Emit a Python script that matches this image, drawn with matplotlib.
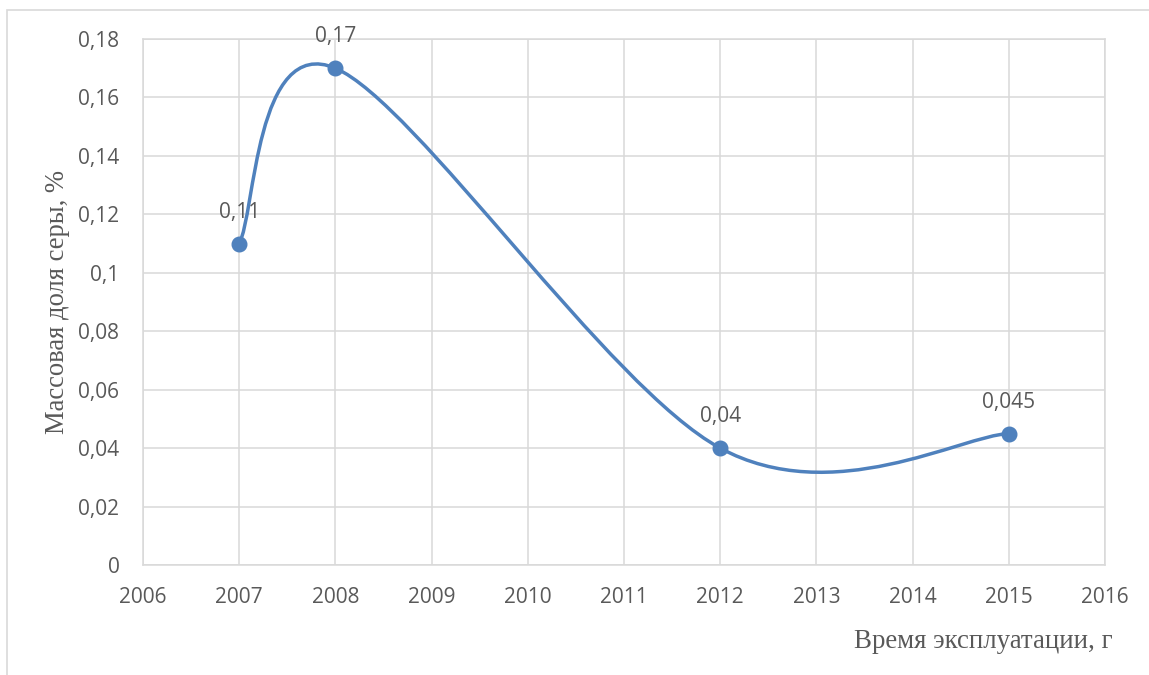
import matplotlib
matplotlib.use("Agg")
import matplotlib.pyplot as plt
import numpy as np
from matplotlib.path import Path
from matplotlib.patches import PathPatch, Rectangle

# data
years = [2007, 2008, 2012, 2015]
sulfur = [0.11, 0.17, 0.04, 0.045]
point_labels = ["0,11", "0,17", "0,04", "0,045"]
x_ticks = list(range(2006, 2017))
y_ticks = [0, 0.02, 0.04, 0.06, 0.08, 0.10, 0.12, 0.14, 0.16, 0.18]
y_tick_labels = ["0", "0,02", "0,04", "0,06", "0,08", "0,1", "0,12", "0,14", "0,16", "0,18"]

LINE = "#4f81bd"
GRID = "#d9d9d9"
TXT = "#595959"
TICK_FONT = "Open Sans"
TITLE_FONT = "Liberation Serif"


def smooth_path(xs, ys):
    # Excel-like smoothed line: cubic Bezier with Catmull-Rom control points
    pts = np.column_stack([xs, ys]).astype(float)
    n = len(pts)
    verts = [pts[0]]
    codes = [Path.MOVETO]
    for i in range(n - 1):
        p_prev = pts[i - 1] if i > 0 else pts[i]
        p_next2 = pts[i + 2] if i + 2 < n else pts[i + 1]
        c1 = pts[i] + (pts[i + 1] - p_prev) / 6
        c2 = pts[i + 1] - (p_next2 - pts[i]) / 6
        verts += [c1, c2, pts[i + 1]]
        codes += [Path.CURVE4] * 3
    return Path(verts, codes)


fig = plt.figure(figsize=(11.49, 6.75), dpi=100)
ax = fig.add_axes([143 / 1149, 1 - 565 / 675, (1105 - 143) / 1149, (565 - 39) / 675])

# chart frame (only left/top edges visible in the crop)
fig.add_artist(Rectangle((7 / 1149, -0.1), 1.2, 1 - 10 / 675 + 0.1,
                         transform=fig.transFigure, fill=False,
                         edgecolor=GRID, linewidth=1.2))

ax.set_xlim(2006, 2016)
ax.set_ylim(0, 0.18)
ax.set_xticks(x_ticks)
ax.set_xticklabels([str(x) for x in x_ticks])
ax.set_yticks(y_ticks)
ax.set_yticklabels(y_tick_labels)
ax.grid(True, color=GRID, linewidth=1.1)
ax.set_axisbelow(True)
for s in ax.spines.values():
    s.set_color(GRID)
    s.set_linewidth(1.1)
ax.tick_params(length=0, colors=TXT, labelsize=15)
ax.tick_params(axis="y", pad=17)
ax.tick_params(axis="x", pad=16)
for lab in ax.get_xticklabels() + ax.get_yticklabels():
    lab.set_fontfamily(TICK_FONT)

ax.add_patch(PathPatch(smooth_path(years, sulfur), facecolor="none",
                       edgecolor=LINE, linewidth=2.5, zorder=3,
                       capstyle="round"))
ax.plot(years, sulfur, linestyle="none", marker="o", markersize=10.5,
        color=LINE, zorder=4, clip_on=False)

for x, y, t in zip(years, sulfur, point_labels):
    ax.annotate(t, (x, y), xytext=(0, 22.5), textcoords="offset points",
                ha="center", va="center", fontsize=15, color=TXT,
                fontfamily=TICK_FONT, zorder=5)

fig.text(1113 / 1149, 1 - 641 / 675, "Время эксплуатации, г", ha="right",
         va="center", fontsize=19.4, color=TXT, fontfamily=TITLE_FONT)
fig.text(57 / 1149, 1 - 302 / 675, "Массовая доля серы, %", ha="center",
         va="center", rotation=90, fontsize=19.2, color=TXT,
         fontfamily=TITLE_FONT)

fig.savefig("out.png", dpi=100)
